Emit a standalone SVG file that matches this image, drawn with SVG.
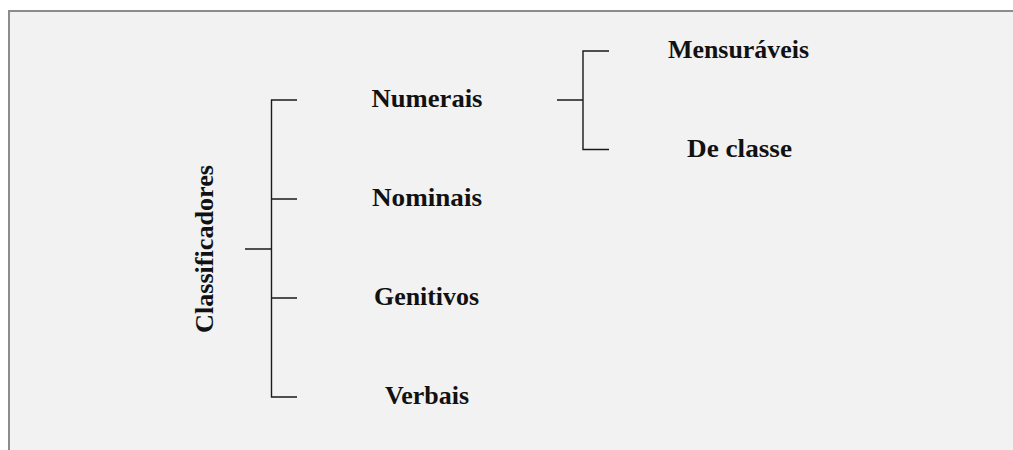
<svg xmlns="http://www.w3.org/2000/svg" width="1013" height="450" viewBox="0 0 1013 450">
  <style>
    .lbl { font-family: "Liberation Serif", "Times New Roman", serif; font-weight: bold; font-size: 26px; fill: #111; text-anchor: middle; }
    .ln { stroke: #1a1a1a; stroke-width: 1.4; fill: none; }
  </style>
  <rect x="0" y="0" width="1013" height="450" fill="#ffffff"/>
  <!-- panel: grey fill with top and left edges only -->
  <rect x="9" y="11" width="1004" height="439" fill="#f2f2f2"/>
  <path d="M9 450 V11 H1013" fill="none" stroke="#8c8c8c" stroke-width="2"/>

  <g id="connectors">
    <!-- main bracket -->
    <path class="ln" d="M245 249 H271.5 M297 100 H271.5 V397 H297 M271.5 199 H297 M271.5 298 H297"/>
    <!-- sub bracket under Numerais -->
    <path class="ln" d="M557 100 H583 M609 51 H583 V149.5 H609"/>
  </g>

  <g id="node-classificadores">
    <text class="lbl" transform="translate(213,249) rotate(-90)" x="0" y="0" textLength="168" lengthAdjust="spacingAndGlyphs">Classificadores</text>
  </g>
  <g id="node-numerais">
    <text class="lbl" x="427" y="107" textLength="111" lengthAdjust="spacingAndGlyphs">Numerais</text>
  </g>
  <g id="node-nominais">
    <text class="lbl" x="427" y="206" textLength="110" lengthAdjust="spacingAndGlyphs">Nominais</text>
  </g>
  <g id="node-genitivos">
    <text class="lbl" x="426.5" y="305" textLength="105" lengthAdjust="spacingAndGlyphs">Genitivos</text>
  </g>
  <g id="node-verbais">
    <text class="lbl" x="427" y="404" textLength="84" lengthAdjust="spacingAndGlyphs">Verbais</text>
  </g>
  <g id="node-mensuraveis">
    <text class="lbl" x="738.5" y="58" textLength="141" lengthAdjust="spacingAndGlyphs">Mensuráveis</text>
  </g>
  <g id="node-de-classe">
    <text class="lbl" x="739.5" y="157" textLength="105" lengthAdjust="spacingAndGlyphs">De classe</text>
  </g>
</svg>
